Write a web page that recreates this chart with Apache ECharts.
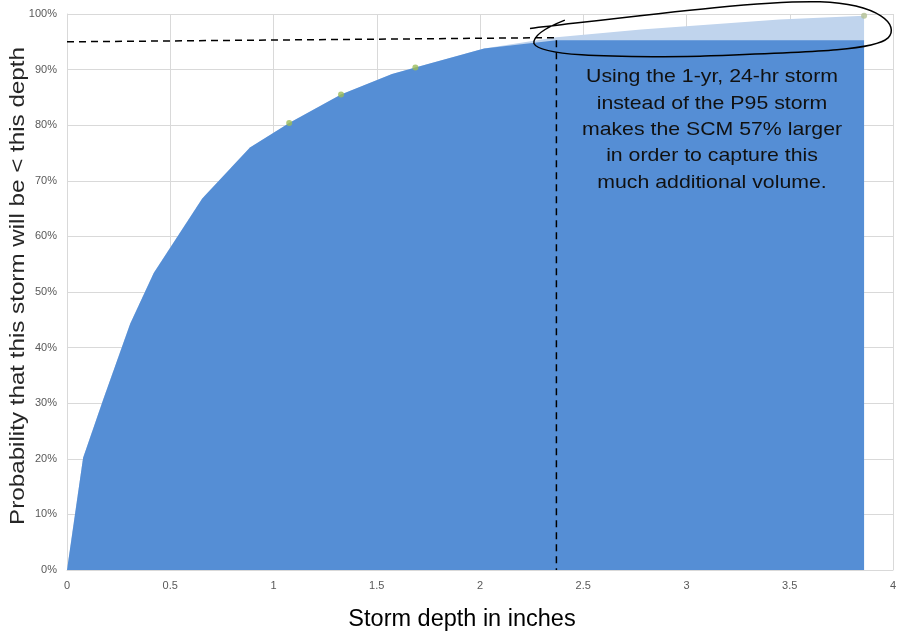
<!DOCTYPE html>
<html>
<head>
<meta charset="utf-8">
<script src="https://cdn.jsdelivr.net/npm/echarts@6/dist/echarts.min.js"></script>
<style>html,body{margin:0;padding:0;background:#fff}#c{width:898px;height:636px}</style>
</head>
<body>
<div id="c"></div>
<script>
// Full exceedance curve (storm depth in inches, cumulative probability %)
const curveDepth = [0, 0.078, 0.175, 0.306, 0.42, 0.655, 0.886, 1.076, 1.327, 1.574, 1.687, 2.02, 2.37, 2.78, 3.45, 3.86];
const curveProb  = [0, 20.2, 30.6, 44.3, 53.4, 66.8, 76.0, 80.4, 85.5, 89.2, 90.4, 93.8, 95.8, 97.2, 99.0, 99.7];
// Curve captured by the P95 design storm (flat beyond P95 depth)
const p95Depth = [0, 0.078, 0.175, 0.306, 0.42, 0.655, 0.886, 1.076, 1.327, 1.574, 1.687, 2.02, 2.37, 3.86];
const p95Prob  = [0, 20.2, 30.6, 44.3, 53.4, 66.8, 76.0, 80.4, 85.5, 89.2, 90.4, 93.8, 95.3, 95.3];
// Percentile markers
const markDepth = [1.076, 1.327, 1.687];
const markProb  = [80.4, 85.5, 90.4];
const oneYrDepth = [3.86];
const oneYrProb  = [99.7];
// Dashed guide (P95 level then down to the P95 depth)
const guideDepth = [0, 2.37, 2.37];
const guideProb  = [95.0, 95.75, 0];
// Hand-drawn loop annotation, in data coordinates (depth, %)
const loopPts = [
  [2.242, 97.4],
  [2.775, 99.7], [3.356, 102.5], [3.646, 102.2],
  [3.935, 101.8], [4.034, 98.0], [3.976, 95.7],
  [3.913, 93.5], [3.647, 93.2], [3.065, 92.4],
  [2.581, 92.1], [2.29, 92.6], [2.261, 94.7],
  [2.257, 96.0], [2.315, 97.5], [2.411, 98.9]
];
const xTicks = {min: 0, max: 4, interval: 0.5};
const yTicks = {min: 0, max: 100, interval: 10};
const xTitle = 'Storm depth in inches';
const yTitle = 'Probability that this storm will be < this depth';
const noteText = 'Using the 1-yr, 24-hr storm\ninstead of the P95 storm\nmakes the SCM 57% larger\nin order to capture this\nmuch additional volume.';

const zip = (a, b) => a.map((v, i) => [v, b[i]]);
const chart = echarts.init(document.getElementById('c'), null, {renderer: 'canvas'});
const font = '"Liberation Sans", Arial, sans-serif';

chart.setOption({
  animation: false,
  textStyle: {fontFamily: font},
  grid: {left: 67, right: 5, top: 14, bottom: 66, containLabel: false, outerBoundsMode: 'none'},
  xAxis: {
    type: 'value', min: xTicks.min, max: xTicks.max, interval: xTicks.interval,
    name: xTitle, nameLocation: 'middle', nameGap: 38,
    nameTextStyle: {fontSize: 23.5, color: '#000', fontFamily: font, padding: [0, 36, 0, 0]},
    axisLine: {show: true, lineStyle: {color: '#d9d9d9'}},
    axisTick: {show: false},
    axisLabel: {color: '#595959', fontSize: 11, margin: 10, fontFamily: font},
    splitLine: {show: true, lineStyle: {color: '#d9d9d9'}}
  },
  yAxis: {
    type: 'value', min: yTicks.min, max: yTicks.max, interval: yTicks.interval,
    axisLine: {show: true, lineStyle: {color: '#d9d9d9'}},
    axisTick: {show: false},
    axisLabel: {color: '#595959', fontSize: 11, margin: 10, formatter: '{value}%', fontFamily: font},
    splitLine: {show: true, lineStyle: {color: '#d9d9d9'}}
  },
  series: [
    {type: 'line', data: zip(curveDepth, curveProb), symbol: 'none', lineStyle: {width: 0},
     areaStyle: {color: '#c0d4ed', opacity: 1}, z: 1},
    {type: 'line', data: zip(p95Depth, p95Prob), symbol: 'none', lineStyle: {width: 0},
     areaStyle: {color: '#558ed5', opacity: 1}, z: 2},
    {type: 'scatter', data: zip(markDepth, markProb), symbolSize: 6,
     itemStyle: {color: '#9bbb59'}, z: 3},
    {type: 'scatter', data: zip(oneYrDepth, oneYrProb), symbolSize: 6,
     itemStyle: {color: '#b3c193'}, z: 3},
    {type: 'line', data: zip(guideDepth, guideProb), symbol: 'none',
     lineStyle: {color: '#000', width: 1.5, type: [7, 5]}, z: 4},
    {type: 'custom', data: [0], clip: false, z: 5,
     renderItem: function (params, api) {
       const p = loopPts.map(d => api.coord(d));
       let s = 'M' + p[0][0] + ',' + p[0][1];
       for (let i = 1; i + 2 < p.length; i += 3) {
         s += ' C' + p[i][0] + ',' + p[i][1] + ' ' + p[i+1][0] + ',' + p[i+1][1] + ' ' + p[i+2][0] + ',' + p[i+2][1];
       }
       return {type: 'path', shape: {pathData: s},
               style: {fill: null, stroke: '#000', lineWidth: 1.5}};
     }}
  ],
  graphic: [
    {type: 'text', x: 712, y: 64, z: 10, scaleX: 1.12,
     style: {text: noteText, textAlign: 'center', textVerticalAlign: 'top', fill: '#111', fontSize: 19, lineHeight: 26.3, fontFamily: font}},
    {type: 'text', x: 19, y: 286, z: 10, rotation: Math.PI / 2, scaleX: 1.24,
     style: {text: yTitle, textAlign: 'center', textVerticalAlign: 'middle', fill: '#262626', fontSize: 19.5, fontFamily: font}}
  ]
});
</script>
</body>
</html>
